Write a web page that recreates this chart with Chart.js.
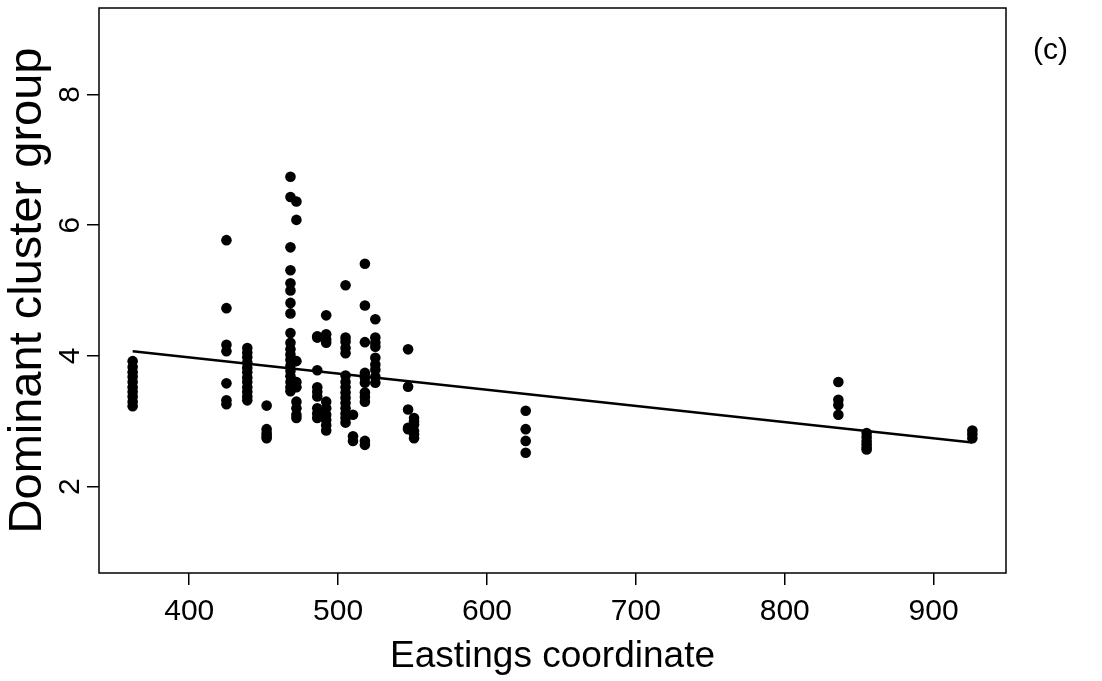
<!DOCTYPE html>
<html lang="en">
<head>
    <meta charset="UTF-8">
    <title>Dominant cluster group vs Eastings</title>
    <script src="https://cdn.jsdelivr.net/npm/chart.js"></script>
    <style>
        body { margin: 0; background: #fff; }
        #wrap { position: relative; width: 1102px; height: 681px; }
        #panel { position: absolute; left: 1033px; top: 32px; font: 30px "Liberation Sans", Arial, sans-serif; color: #000; }
    </style>
</head>
<body>
    <div id="wrap">
        <canvas id="chart" width="1102" height="681"></canvas>
        <div id="panel">(c)</div>
    </div>
    <script>
        // eastings of each sampling column and the cluster group values read at that easting
        const eastings = [362, 425, 439, 452, 468, 472, 486, 492, 505, 510, 518, 525, 547, 551, 626, 836, 855, 926];
        const clusterValues = [
            [3.92, 3.83, 3.75, 3.68, 3.6, 3.52, 3.45, 3.38, 3.3, 3.23],
            [5.77, 4.73, 4.17, 4.07, 3.58, 3.32, 3.26],
            [4.12, 4.05, 3.98, 3.9, 3.82, 3.75, 3.67, 3.6, 3.52, 3.45, 3.38, 3.32],
            [3.24, 2.88, 2.82, 2.78, 2.74],
            [6.74, 6.43, 5.66, 5.31, 5.11, 5.0, 4.81, 4.65, 4.35, 4.2, 4.1, 4.02, 3.94, 3.85, 3.77, 3.69, 3.6, 3.52, 3.46],
            [6.36, 6.08, 3.92, 3.6, 3.52, 3.3, 3.2, 3.1, 3.05],
            [4.3, 4.28, 3.78, 3.52, 3.45, 3.38, 3.2, 3.12, 3.05],
            [4.62, 4.33, 4.25, 4.2, 3.3, 3.2, 3.1, 3.02, 2.94, 2.86],
            [5.08, 4.28, 4.22, 4.12, 4.04, 3.7, 3.6, 3.52, 3.44, 3.36, 3.28, 3.2, 3.12, 3.05, 2.98],
            [3.1, 2.77, 2.7],
            [5.41, 4.77, 4.21, 3.74, 3.67, 3.59, 3.44, 3.37, 3.3, 2.7, 2.64],
            [4.56, 4.28, 4.2, 4.14, 3.97, 3.87, 3.79, 3.68, 3.59],
            [4.1, 3.53, 3.18, 2.9, 2.88],
            [3.05, 3.0, 2.95, 2.85, 2.8, 2.74],
            [3.16, 2.88, 2.7, 2.52],
            [3.6, 3.33, 3.25, 3.1],
            [2.82, 2.76, 2.7, 2.65, 2.6, 2.57],
            [2.86, 2.8, 2.74]
        ];
        // fitted regression line end points
        const fitEastings = [362, 926];
        const fitValues = [4.07, 2.675];

        const xTicks = [400, 500, 600, 700, 800, 900];
        const yTicks = [2, 4, 6, 8];

        const points = [];
        eastings.forEach((e, i) => {
            clusterValues[i].forEach(v => points.push({ x: e, y: v }));
        });
        const fitLine = fitEastings.map((e, i) => ({ x: e, y: fitValues[i] }));

        const fontFamily = '"Liberation Sans", Arial, sans-serif';

        const boxPlugin = {
            id: 'box',
            afterDraw(chart) {
                const a = chart.chartArea;
                const ctx = chart.ctx;
                ctx.save();
                ctx.strokeStyle = '#000';
                ctx.lineWidth = 1.5;
                ctx.strokeRect(a.left, a.top, a.right - a.left, a.bottom - a.top);
                ctx.restore();
            }
        };

        new Chart(document.getElementById('chart'), {
            type: 'scatter',
            data: {
                datasets: [
                    {
                        label: 'Sites',
                        data: points,
                        pointRadius: 5.3,
                        pointBorderWidth: 0,
                        pointBackgroundColor: '#000',
                        borderColor: '#000'
                    },
                    {
                        type: 'line',
                        label: 'Fit',
                        data: fitLine,
                        borderColor: '#000',
                        borderWidth: 2.5,
                        pointRadius: 0,
                        fill: false
                    }
                ]
            },
            options: {
                responsive: false,
                animation: false,
                layout: { padding: { top: 8, right: 96, left: 0, bottom: 0 } },
                plugins: {
                    legend: { display: false },
                    tooltip: { enabled: false }
                },
                scales: {
                    x: {
                        type: 'linear',
                        min: 339.4,
                        max: 948.6,
                        afterFit: s => { s.height = 108; s.paddingLeft = 0; s.paddingRight = 0; },
                        afterBuildTicks: s => { s.ticks = xTicks.map(v => ({ value: v })); },
                        border: { display: false },
                        grid: { drawOnChartArea: false, drawTicks: true, tickLength: 12, color: '#000', lineWidth: 1.5 },
                        ticks: { color: '#000', padding: 9, maxRotation: 0, font: { family: fontFamily, size: 30 } },
                        title: {
                            display: true,
                            text: 'Eastings coordinate',
                            color: '#000',
                            padding: { top: 0, bottom: 2 },
                            font: { family: fontFamily, size: 37 }
                        }
                    },
                    y: {
                        type: 'linear',
                        min: 0.68,
                        max: 9.32,
                        afterFit: s => { s.width = 99; s.paddingTop = 0; s.paddingBottom = 0; },
                        afterBuildTicks: s => { s.ticks = yTicks.map(v => ({ value: v })); },
                        border: { display: false },
                        grid: { drawOnChartArea: false, drawTicks: true, tickLength: 12, color: '#000', lineWidth: 1.5 },
                        ticks: {
                            color: '#000',
                            padding: 8,
                            minRotation: 90,
                            maxRotation: 90,
                            crossAlign: 'center',
                            font: { family: fontFamily, size: 30 }
                        },
                        title: {
                            display: true,
                            text: 'Dominant cluster group',
                            color: '#000',
                            padding: { top: 0, bottom: 0 },
                            font: { family: fontFamily, size: 47 }
                        }
                    }
                }
            },
            plugins: [boxPlugin]
        });
    </script>
</body>
</html>
